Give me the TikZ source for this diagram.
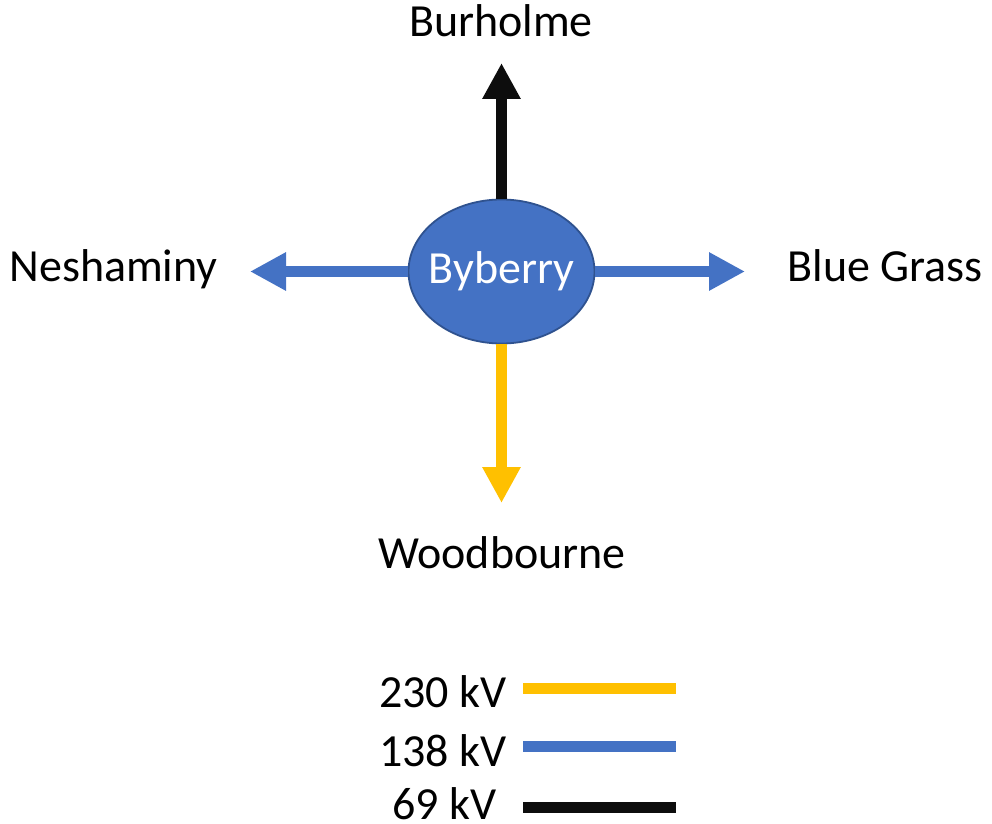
\documentclass[tikz,border=0pt]{standalone}
\usepackage{fontspec}
\setmainfont{Carlito}
\usetikzlibrary{shapes.geometric,arrows.meta}
\definecolor{cblue}{HTML}{4472C4}
\definecolor{cborder}{HTML}{2F528F}
\definecolor{cyellow}{HTML}{FFC000}
\definecolor{cblack}{HTML}{0D0D0D}
\begin{document}
\begin{tikzpicture}[x=0.5pt,y=-0.5pt,
  lbl/.style={font=\fontsize{23}{27}\selectfont, inner sep=0pt, anchor=base},
  feeder/.style={line width=5.5pt, -{Triangle[length=18pt,width=18pt]}},
  legline/.style={line width=5.5pt}]
\useasboundingbox (0,0) rectangle (992,824);
% labels
\node[lbl] (bur) at (501,37) {Burholme};
\node[lbl, anchor=base west] (nes) at (9,282) {Neshaminy};
\node[lbl, anchor=base east] (blu) at (983,282) {Blue Grass};
\node[lbl] (woo) at (502,568) {Woodbourne};
% tip coordinates
\coordinate (tn) at (501.5,63);
\coordinate (tw) at (250,271.5);
\coordinate (te) at (745,271.5);
\coordinate (ts) at (501.5,503);
% central substation
\node[ellipse, draw=cborder, line width=0.9pt, fill=cblue,
  minimum width=93pt, minimum height=72pt, inner sep=0pt,
  label={[text=white, font=\fontsize{23}{27}\selectfont, inner sep=0pt]center:Byberry}] (byb) at (501.5,271.5) {};
% arrows
\draw[feeder, cblack] (byb.north) -- (tn);
\draw[feeder, cblue] (byb.west) -- (tw);
\draw[feeder, cblue] (byb.east) -- (te);
\draw[feeder, cyellow] (byb.south) -- (ts);
% legend
\node[lbl] (l230) at (443,707) {230 kV};
\node[lbl] (l138) at (443,766) {138 kV};
\node[lbl] (l69) at (444.5,819) {69 kV};
\coordinate (a1) at (523,688); \coordinate (b1) at (676,688);
\coordinate (a2) at (523,746); \coordinate (b2) at (676,746);
\coordinate (a3) at (523,807); \coordinate (b3) at (676,807);
\draw[legline, cyellow] (a1) -- (b1);
\draw[legline, cblue] (a2) -- (b2);
\draw[legline, cblack] (a3) -- (b3);
\end{tikzpicture}
\end{document}
